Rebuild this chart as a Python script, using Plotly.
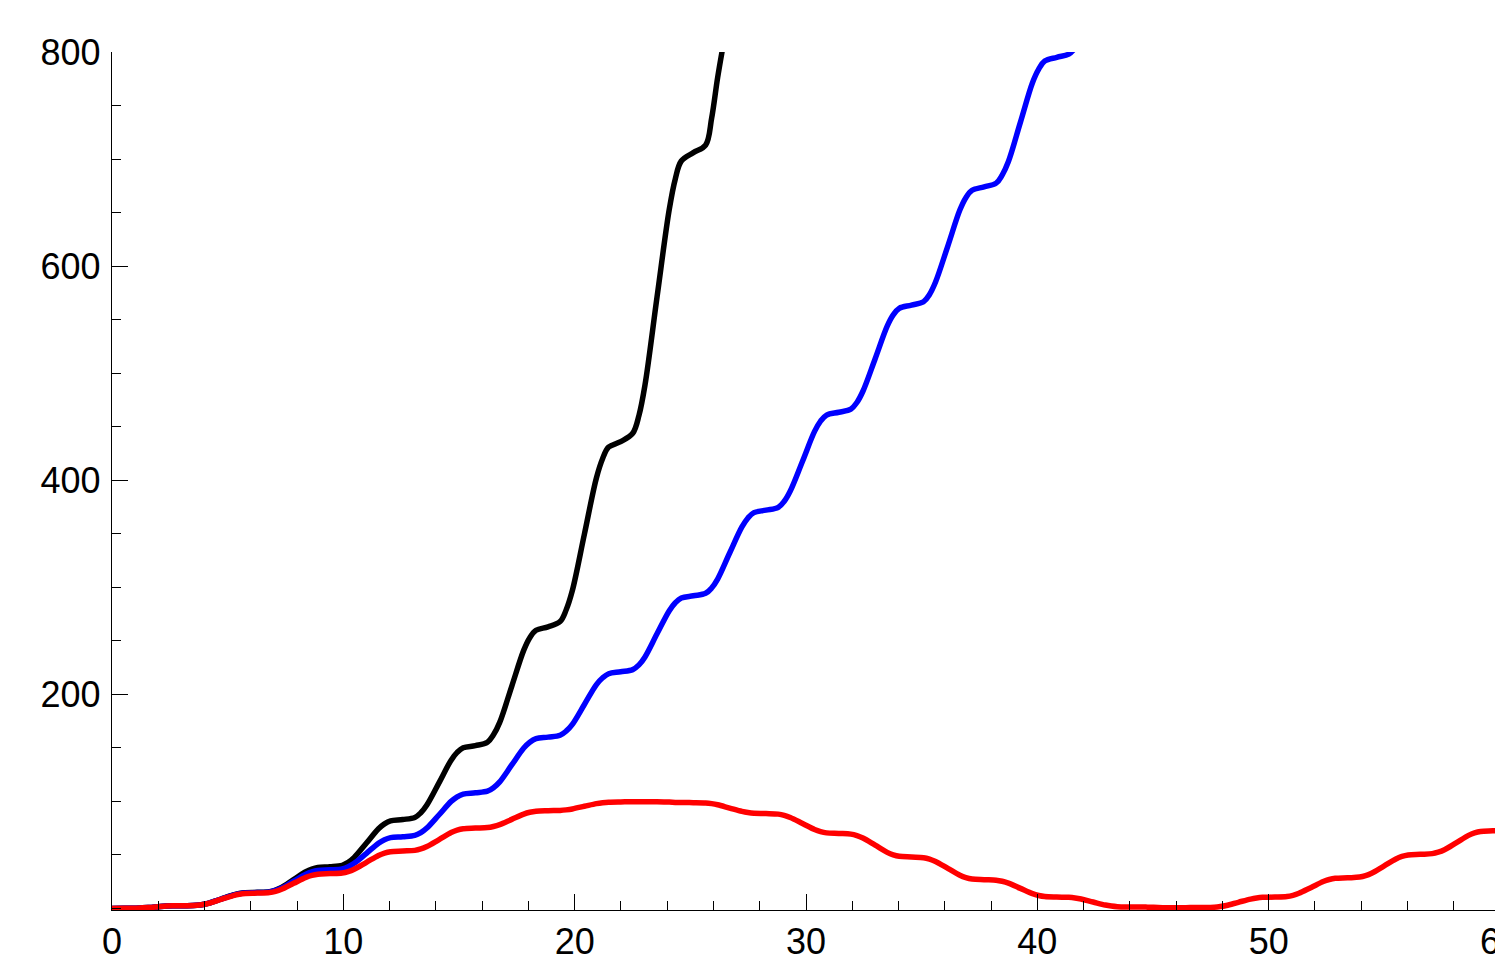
import plotly.graph_objects as go

# x positions read along the horizontal axis (shared sampling, 8 per step)
X = [0, 0.52, 0.79, 1.05, 1.57, 2.09, 2.36, 2.62,
     3.14, 3.67, 3.93, 4.19, 4.71, 5.24, 5.50, 5.76,
     6.28, 6.81, 7.07, 7.33, 7.85, 8.38, 8.64, 8.90,
     9.42, 9.95, 10.21, 10.47, 11.00, 11.52, 11.78, 12.04,
     12.57, 13.09, 13.35, 13.61, 14.14, 14.66, 14.92, 15.18,
     15.71, 16.23, 16.49, 16.76, 17.28, 17.80, 18.06, 18.33,
     18.85, 19.37, 19.63, 19.90, 20.42, 20.94, 21.21, 21.47,
     21.99, 22.51, 22.78, 23.04, 23.56, 24.09, 24.35, 24.61,
     25.13, 25.66, 25.92, 26.18, 26.70, 27.23, 27.49, 27.75,
     28.27, 28.80, 29.06, 29.32, 29.85, 30.37, 30.63, 30.89,
     31.42, 31.94, 32.20, 32.46, 32.99, 33.51, 33.77, 34.03,
     34.56, 35.08, 35.34, 35.60, 36.13, 36.65, 36.91, 37.18,
     37.70, 38.22, 38.48, 38.75, 39.27, 39.79, 40.06, 40.32,
     40.84, 41.36, 41.63, 41.89, 42.41, 42.94, 43.20, 43.46,
     43.98, 44.51, 44.77, 45.03, 45.55, 46.08, 46.34, 46.60,
     47.12, 47.65, 47.91, 48.17, 48.69, 49.22, 49.48, 49.74,
     50.27, 50.79, 51.05, 51.31, 51.84, 52.36, 52.62, 52.88,
     53.41, 53.93, 54.19, 54.45, 54.98, 55.50, 55.76, 56.03,
     56.55, 57.07, 57.33, 57.60, 58.12, 58.64, 58.90, 59.16,
     59.69, 60.21]

Y_RED = [0, 0.02, 0.07, 0.2, 0.8, 1.8, 2.2, 2.4,
         2.5, 2.84, 3.57, 4.81, 8.4, 11.99, 13.23, 13.96,
         14.3, 14.83, 15.96, 17.87, 23.4, 28.93, 30.84, 31.97,
         32.5, 33.11, 34.42, 36.64, 43.05, 49.46, 51.68, 52.99,
         53.6, 54.22, 55.55, 57.79, 64.3, 70.81, 73.05, 74.38,
         75, 75.47, 76.48, 78.19, 83.15, 88.1, 89.82, 90.83,
         91.3, 91.54, 92.05, 92.91, 95.4, 97.89, 98.75, 99.26,
         99.5, 99.6, 99.65, 99.7, 99.6, 99.3, 99.0, 98.9,
         98.8, 98.5, 97.87, 96.8, 93.7, 90.6, 89.53, 88.9,
         88.6, 88.06, 86.91, 84.95, 79.3, 73.65, 71.69, 70.54,
         70, 69.36, 68.0, 65.69, 59, 52.31, 50.0, 48.64,
         48, 47.39, 46.07, 43.84, 37.4, 30.96, 28.73, 27.41,
         26.8, 26.33, 25.33, 23.62, 18.7, 13.78, 12.07, 11.07,
         10.6, 10.33, 9.75, 8.78, 5.95, 3.12, 2.15, 1.57,
         1.3, 1.25, 1.15, 1.0, 0.6, 0.5, 0.65, 0.75,
         0.8, 1.08, 1.69, 2.72, 5.7, 8.68, 9.71, 10.32,
         10.6, 11.12, 12.24, 14.13, 19.6, 25.07, 26.96, 28.08,
         28.6, 29.24, 30.59, 32.89, 39.55, 46.21, 48.51, 49.86,
         50.5, 51.14, 52.5, 54.81, 61.5, 68.19, 70.5, 71.86,
         72.5, 73.1]

X_BLUE = X[:105] + [41.36, 41.6]
Y_BLUE = [0, 0.02, 0.07, 0.2, 0.8, 1.8, 2.2, 2.4,
          2.5, 2.86, 3.62, 4.91, 8.65, 12.39, 13.68, 14.44,
          14.8, 15.41, 16.73, 18.96, 25.4, 31.84, 34.07, 35.39,
          36, 36.9, 38.82, 42.08, 51.5, 60.92, 64.18, 66.1,
          67, 68.19, 70.73, 75.04, 87.5, 99.96, 104.27, 106.81,
          108, 109.51, 112.73, 118.19, 134, 149.81, 155.27, 158.49,
          160, 161.77, 165.55, 171.96, 190.5, 209.04, 215.45, 219.23,
          221, 223.06, 227.46, 234.92, 256.5, 278.08, 285.54, 289.94,
          292, 294.32, 299.28, 307.68, 332, 356.32, 364.72, 369.68,
          372, 374.65, 380.33, 389.93, 417.75, 445.57, 455.17, 460.85,
          463.5, 466.4, 472.6, 483.1, 513.5, 543.9, 554.4, 560.6,
          563.5, 566.7, 573.56, 585.16, 618.75, 652.34, 663.94, 670.8,
          674, 677.51, 685.01, 697.72, 734.5, 771.28, 783.99, 791.49,
          795, 798, 803]

X_BLACK = X[:65] + [25.66, 25.92, 26.18, 26.45]
Y_BLACK = [0, 0.02, 0.07, 0.2, 0.8, 1.8, 2.2, 2.4,
           2.5, 2.86, 3.64, 4.95, 8.75, 12.55, 13.86, 14.64,
           15, 15.7, 17.18, 19.7, 27, 34.3, 36.82, 38.3,
           39, 40.28, 43.0, 47.62, 61, 74.38, 79.0, 81.72,
           83, 85.0, 89.28, 96.52, 117.5, 138.48, 145.72, 150.0,
           152, 155.22, 162.1, 173.76, 207.5, 241.24, 252.9, 259.78,
           263, 268.02, 278.74, 296.91, 349.5, 402.09, 420.26, 430.98,
           436, 443.83, 460.57, 488.92, 571, 653.08, 681.43, 698.17,
           706, 713, 738, 776, 810]

X_TICKS = [0, 10, 20, 30, 40, 50, 60]
Y_TICKS = [200, 400, 600, 800]

FONT = dict(family="Liberation Sans, Arial, sans-serif", size=36, color="black")

fig = go.Figure()
for xs, ys, col in [(X_BLACK, Y_BLACK, "#000000"),
                    (X_BLUE, Y_BLUE, "#0000ff"),
                    (X, Y_RED, "#ff0000")]:
    fig.add_trace(go.Scatter(x=xs, y=ys, mode="lines",
                             line=dict(color=col, width=5.5, shape="spline", smoothing=1.0),
                             showlegend=False, hoverinfo="skip"))

axis_common = dict(showgrid=False, zeroline=False, showline=True, linecolor="black",
                   linewidth=1.3, ticks="inside", ticklen=16, tickwidth=1.3,
                   tickcolor="black", tickfont=FONT, automargin=False,
                   ticklabeloverflow="allow")

fig.update_xaxes(range=[0, 60], tickvals=X_TICKS, ticklabelstandoff=0,
                 minor=dict(ticks="inside", ticklen=9, tickwidth=1.3, tickcolor="black", dtick=2, tick0=0),
                 **axis_common)
fig.update_yaxes(range=[-1.5, 800], tickvals=Y_TICKS, ticklabelstandoff=3,
                 minor=dict(ticks="inside", ticklen=9, tickwidth=1.3, tickcolor="black", dtick=50, tick0=0),
                 **axis_common)

fig.update_layout(width=1495, height=947, margin=dict(l=104, r=3, t=44, b=45.4),
                  paper_bgcolor="white", plot_bgcolor="white", showlegend=False)

fig.write_html("out.html")
